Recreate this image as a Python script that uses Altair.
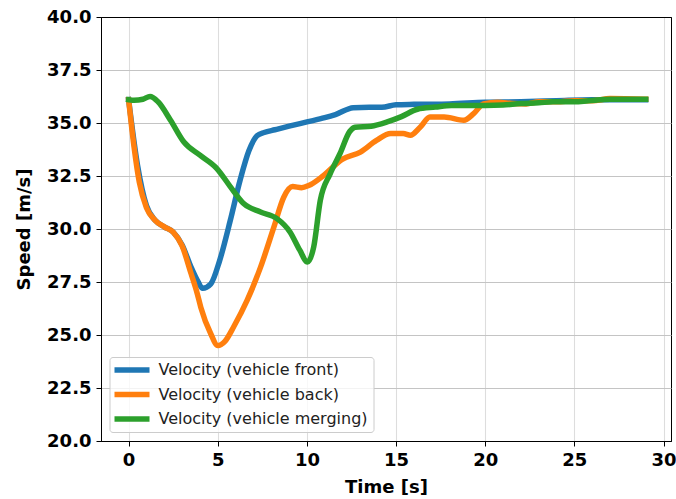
import altair as alt
import pandas as pd

# Data
front_t = [0, 0.5, 1.0, 1.5, 2.0, 2.5, 3.0, 3.5, 3.9, 4.15, 4.6, 5.1, 5.7, 6.25, 6.75, 7.2, 7.6, 8.2, 9.0, 10.0, 11.0, 11.6, 12.6, 13.5, 14.2, 15.0, 16.0, 18.0, 20.0, 22.0, 24.0, 26.0, 29.0]
front_v = [36.1, 33.0, 31.1, 30.4, 30.1, 29.85, 29.25, 28.2, 27.5, 27.2, 27.4, 28.5, 30.4, 32.3, 33.7, 34.4, 34.55, 34.68, 34.85, 35.05, 35.25, 35.4, 35.72, 35.74, 35.74, 35.86, 35.88, 35.9, 35.98, 36.0, 36.05, 36.1, 36.1]

back_t = [0, 0.3, 0.6, 1.0, 1.5, 2.0, 2.5, 3.0, 3.5, 3.85, 4.05, 4.6, 5.0, 5.4, 5.9, 6.65, 7.4, 8.15, 8.7, 9.2, 9.7, 10.1, 10.9, 12.0, 13.0, 13.9, 14.7, 15.4, 15.8, 16.35, 16.9, 17.7, 18.8, 19.35, 19.9, 20.7, 21.5, 22.3, 23.0, 24.0, 25.0, 26.0, 27.0, 29.0]
back_v = [36.1, 33.9, 32.2, 31.0, 30.4, 30.1, 29.85, 29.2, 27.9, 26.95, 26.3, 25.07, 24.5, 24.7, 25.4, 26.64, 28.2, 30.1, 31.5, 32.0, 31.95, 32.05, 32.5, 33.3, 33.63, 34.18, 34.5, 34.5, 34.42, 34.8, 35.28, 35.28, 35.13, 35.44, 35.9, 35.98, 35.92, 35.9, 36.0, 36.0, 36.05, 36.05, 36.15, 36.12]

merge_t = [0, 0.3, 0.8, 1.2, 1.65, 2.35, 3.1, 4.0, 4.95, 5.7, 6.45, 7.4, 8.3, 9.05, 9.6, 10.03, 10.38, 10.75, 11.3, 11.85, 12.4, 12.7, 13.6, 14.5, 15.3, 16.2, 17.2, 18.1, 20.0, 21.0, 22.0, 23.0, 23.8, 25.0, 25.8, 27.0, 29.0]
merge_v = [36.1, 36.07, 36.12, 36.25, 36.0, 35.13, 34.1, 33.48, 32.85, 32.0, 31.2, 30.8, 30.5, 29.86, 29.0, 28.44, 29.15, 31.35, 32.6, 33.55, 34.6, 34.8, 34.85, 35.05, 35.3, 35.65, 35.75, 35.83, 35.83, 35.85, 35.92, 35.95, 36.0, 36.0, 36.05, 36.12, 36.12]

series_names = ["Velocity (vehicle front)", "Velocity (vehicle back)", "Velocity (vehicle merging)"]
series_colors = ["#1f77b4", "#ff7f0e", "#2ca02c"]
x_ticks = [0, 5, 10, 15, 20, 25, 30]
y_ticks = [20.0, 22.5, 25.0, 27.5, 30.0, 32.5, 35.0, 37.5, 40.0]

frames = []
for name, ts, vs in zip(series_names, [front_t, back_t, merge_t], [front_v, back_v, merge_v]):
    frames.append(pd.DataFrame({"t": ts, "v": vs, "series": name}))
df = pd.concat(frames, ignore_index=True)

FONT = "DejaVu Sans"

x_enc = alt.X("t:Q", title="Time [s]",
              scale=alt.Scale(domain=[-1.55, 30.42], nice=False, zero=False),
              axis=alt.Axis(values=x_ticks, format="d"))
y_enc = alt.Y("v:Q", title="Speed [m/s]",
              scale=alt.Scale(domain=[20, 40], nice=False, zero=False),
              axis=alt.Axis(values=y_ticks, format=".1f",
                            gridColor={"condition": {"test": "datum.value == 40 || datum.value == 20", "value": "black"}, "value": "#c4c4c4"}))
color_enc = alt.Color("series:N",
                      scale=alt.Scale(domain=series_names, range=series_colors),
                      legend=alt.Legend(title=None, orient="none", legendX=8.5, legendY=340,
                                        symbolType="stroke", symbolSize=1369, symbolStrokeWidth=5.5,
                                        symbolOffset=-5, clipHeight=16,
                                        labelFontSize=16, labelFont=FONT, labelColor="#222222",
                                        labelOffset=6, rowPadding=8.5, padding=5,
                                        fillColor="rgba(255,255,255,0.8)", strokeColor="#cccccc",
                                        cornerRadius=3, labelLimit=400))

layers = []
for name in series_names:
    layers.append(
        alt.Chart(df).transform_filter(alt.datum.series == name)
        .mark_line(strokeWidth=5.5, interpolate="monotone", strokeCap="square")
        .encode(x=x_enc, y=y_enc, color=color_enc)
    )

chart = alt.layer(*layers).properties(
    width=570, height=424,
    autosize=alt.AutoSizeParams(type="none"),
    padding={"left": 101, "top": 17, "right": 5, "bottom": 58},
).configure_view(
    stroke="black", strokeWidth=1
).configure_axis(
    labelFont=FONT, labelFontSize=18, labelFontWeight="bold", labelColor="black",
    titleFont=FONT, titleFontSize=18, titleFontWeight="bold", titleColor="black",
    domainColor="black", domainWidth=1, tickColor="black", tickSize=5, tickWidth=1,
    labelPadding=5, gridWidth=1.1, labelFlush=False, labelOverlap=False
).configure_axisX(
    titlePadding=9
).configure_axisY(
    titlePadding=13
)

chart.save("out.html", embed_options={"renderer": "svg", "actions": False})
